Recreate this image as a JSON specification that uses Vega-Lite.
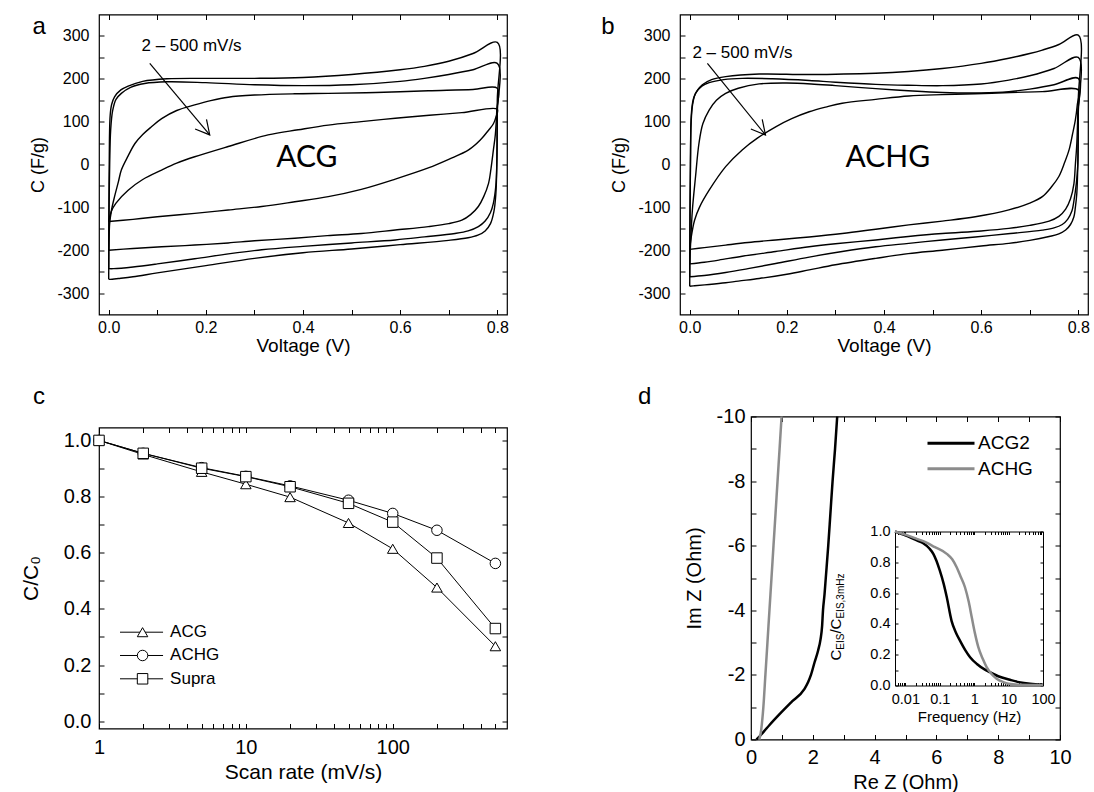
{
"$schema": "https://vega.github.io/schema/vega-lite/v6.json",
"background": "white",
"padding": {"left": 19, "top": 12.5, "right": 0, "bottom": 0},
"spacing": 402,
"bounds": "flush",
"config": {
  "view": {"stroke": "black", "strokeWidth": 1.2},
  "axis": {"grid": false, "domain": false, "ticks": true, "tickColor": "black", "tickWidth": 1, "tickSize": -5, "labelColor": "black", "titleColor": "black", "labelFont": "Liberation Sans", "titleFont": "Liberation Sans", "titleFontWeight": "normal", "labelFlush": false, "labelOverlap": false},
  "text": {"font": "Liberation Sans", "color": "black"},
  "legend": {"labelFont": "Liberation Sans", "labelColor": "black"}
},
"datasets": {
  "cva": [
    {"l":1,"v":0,"c":-268},{"l":1,"v":0.0005,"c":-100},{"l":1,"v":0.0015,"c":60},{"l":1,"v":0.003,"c":115},{"l":1,"v":0.006,"c":140},{"l":1,"v":0.012,"c":158},{"l":1,"v":0.025,"c":174},{"l":1,"v":0.04,"c":183},{"l":1,"v":0.07,"c":194},{"l":1,"v":0.12,"c":200},{"l":1,"v":0.2,"c":201},{"l":1,"v":0.3,"c":201},{"l":1,"v":0.4,"c":203},{"l":1,"v":0.5,"c":210},{"l":1,"v":0.6,"c":221},{"l":1,"v":0.65,"c":229},{"l":1,"v":0.7,"c":241},{"l":1,"v":0.75,"c":259},{"l":1,"v":0.8,"c":285},{"l":1,"v":0.8,"c":150},{"l":1,"v":0.799,"c":0},{"l":1,"v":0.797,"c":-70},{"l":1,"v":0.793,"c":-110},{"l":1,"v":0.786,"c":-138},{"l":1,"v":0.775,"c":-155},{"l":1,"v":0.76,"c":-165},{"l":1,"v":0.74,"c":-171},{"l":1,"v":0.7,"c":-177},{"l":1,"v":0.6,"c":-187},{"l":1,"v":0.5,"c":-197},{"l":1,"v":0.4,"c":-206},{"l":1,"v":0.3,"c":-219},{"l":1,"v":0.2,"c":-236},{"l":1,"v":0.1,"c":-253},{"l":1,"v":0.05,"c":-262},{"l":1,"v":0.02,"c":-266},{"l":1,"v":0.003,"c":-268},{"l":1,"v":0,"c":-268},
    {"l":2,"v":0,"c":-243},{"l":2,"v":0.0005,"c":-120},{"l":2,"v":0.002,"c":0},{"l":2,"v":0.004,"c":80},{"l":2,"v":0.008,"c":125},{"l":2,"v":0.015,"c":152},{"l":2,"v":0.026,"c":166},{"l":2,"v":0.045,"c":180},{"l":2,"v":0.074,"c":189},{"l":2,"v":0.12,"c":193},{"l":2,"v":0.2,"c":191},{"l":2,"v":0.3,"c":186},{"l":2,"v":0.4,"c":184},{"l":2,"v":0.5,"c":186},{"l":2,"v":0.6,"c":194},{"l":2,"v":0.65,"c":201},{"l":2,"v":0.7,"c":210},{"l":2,"v":0.75,"c":221},{"l":2,"v":0.8,"c":236},{"l":2,"v":0.8,"c":120},{"l":2,"v":0.799,"c":0},{"l":2,"v":0.797,"c":-50},{"l":2,"v":0.792,"c":-90},{"l":2,"v":0.786,"c":-112},{"l":2,"v":0.775,"c":-132},{"l":2,"v":0.761,"c":-145},{"l":2,"v":0.74,"c":-155},{"l":2,"v":0.713,"c":-161},{"l":2,"v":0.65,"c":-169},{"l":2,"v":0.59,"c":-176},{"l":2,"v":0.5,"c":-183},{"l":2,"v":0.4,"c":-191},{"l":2,"v":0.315,"c":-199},{"l":2,"v":0.25,"c":-208},{"l":2,"v":0.177,"c":-220},{"l":2,"v":0.1,"c":-232},{"l":2,"v":0.05,"c":-239},{"l":2,"v":0.01,"c":-243},{"l":2,"v":0,"c":-243},
    {"l":3,"v":0,"c":-200},{"l":3,"v":0.001,"c":-160},{"l":3,"v":0.002,"c":-137},{"l":3,"v":0.006,"c":-105},{"l":3,"v":0.012,"c":-75},{"l":3,"v":0.02,"c":-40},{"l":3,"v":0.026,"c":-13},{"l":3,"v":0.04,"c":20},{"l":3,"v":0.054,"c":49},{"l":3,"v":0.07,"c":70},{"l":3,"v":0.088,"c":88},{"l":3,"v":0.109,"c":107},{"l":3,"v":0.14,"c":126},{"l":3,"v":0.177,"c":139},{"l":3,"v":0.21,"c":149},{"l":3,"v":0.246,"c":157},{"l":3,"v":0.3,"c":162},{"l":3,"v":0.383,"c":165},{"l":3,"v":0.452,"c":166},{"l":3,"v":0.55,"c":168},{"l":3,"v":0.658,"c":172},{"l":3,"v":0.75,"c":175},{"l":3,"v":0.8,"c":178},{"l":3,"v":0.799,"c":127},{"l":3,"v":0.796,"c":70},{"l":3,"v":0.792,"c":34},{"l":3,"v":0.787,"c":-10},{"l":3,"v":0.782,"c":-44},{"l":3,"v":0.772,"c":-75},{"l":3,"v":0.761,"c":-98},{"l":3,"v":0.745,"c":-117},{"l":3,"v":0.727,"c":-130},{"l":3,"v":0.7,"c":-138},{"l":3,"v":0.658,"c":-145},{"l":3,"v":0.59,"c":-153},{"l":3,"v":0.52,"c":-161},{"l":3,"v":0.45,"c":-166},{"l":3,"v":0.383,"c":-172},{"l":3,"v":0.3,"c":-178},{"l":3,"v":0.246,"c":-183},{"l":3,"v":0.177,"c":-188},{"l":3,"v":0.109,"c":-192},{"l":3,"v":0.05,"c":-196},{"l":3,"v":0,"c":-200},
    {"l":4,"v":0,"c":-133},{"l":4,"v":0.005,"c":-110},{"l":4,"v":0.015,"c":-90},{"l":4,"v":0.04,"c":-60},{"l":4,"v":0.07,"c":-35},{"l":4,"v":0.109,"c":-13},{"l":4,"v":0.14,"c":3},{"l":4,"v":0.177,"c":18},{"l":4,"v":0.246,"c":42},{"l":4,"v":0.328,"c":69},{"l":4,"v":0.39,"c":81},{"l":4,"v":0.452,"c":92},{"l":4,"v":0.52,"c":100},{"l":4,"v":0.59,"c":108},{"l":4,"v":0.66,"c":115},{"l":4,"v":0.727,"c":121},{"l":4,"v":0.8,"c":129},{"l":4,"v":0.797,"c":110},{"l":4,"v":0.792,"c":95},{"l":4,"v":0.782,"c":80},{"l":4,"v":0.765,"c":57},{"l":4,"v":0.741,"c":34},{"l":4,"v":0.7,"c":12},{"l":4,"v":0.658,"c":-8},{"l":4,"v":0.59,"c":-34},{"l":4,"v":0.52,"c":-58},{"l":4,"v":0.452,"c":-75},{"l":4,"v":0.383,"c":-87},{"l":4,"v":0.315,"c":-98},{"l":4,"v":0.246,"c":-106},{"l":4,"v":0.177,"c":-114},{"l":4,"v":0.1,"c":-122},{"l":4,"v":0.05,"c":-128},{"l":4,"v":0,"c":-133}
  ],
  "cvb": [
    {"l":1,"v":0,"c":-284},{"l":1,"v":0.0005,"c":-150},{"l":1,"v":0.0015,"c":0},{"l":1,"v":0.003,"c":110},{"l":1,"v":0.006,"c":145},{"l":1,"v":0.009,"c":158},{"l":1,"v":0.015,"c":172},{"l":1,"v":0.026,"c":186},{"l":1,"v":0.045,"c":198},{"l":1,"v":0.074,"c":205},{"l":1,"v":0.143,"c":211},{"l":1,"v":0.246,"c":210},{"l":1,"v":0.383,"c":213},{"l":1,"v":0.45,"c":217},{"l":1,"v":0.52,"c":224},{"l":1,"v":0.6,"c":236},{"l":1,"v":0.657,"c":248},{"l":1,"v":0.7,"c":259},{"l":1,"v":0.726,"c":267},{"l":1,"v":0.76,"c":280},{"l":1,"v":0.8,"c":302},{"l":1,"v":0.8,"c":150},{"l":1,"v":0.799,"c":0},{"l":1,"v":0.797,"c":-67},{"l":1,"v":0.794,"c":-100},{"l":1,"v":0.791,"c":-122},{"l":1,"v":0.784,"c":-140},{"l":1,"v":0.774,"c":-153},{"l":1,"v":0.76,"c":-162},{"l":1,"v":0.74,"c":-168},{"l":1,"v":0.7,"c":-177},{"l":1,"v":0.657,"c":-184},{"l":1,"v":0.6,"c":-190},{"l":1,"v":0.52,"c":-200},{"l":1,"v":0.45,"c":-208},{"l":1,"v":0.383,"c":-219},{"l":1,"v":0.3,"c":-234},{"l":1,"v":0.246,"c":-246},{"l":1,"v":0.2,"c":-256},{"l":1,"v":0.143,"c":-266},{"l":1,"v":0.1,"c":-272},{"l":1,"v":0.074,"c":-276},{"l":1,"v":0.04,"c":-280},{"l":1,"v":0.01,"c":-283},{"l":1,"v":0,"c":-284},
    {"l":2,"v":0,"c":-262},{"l":2,"v":0.0005,"c":-120},{"l":2,"v":0.0015,"c":0},{"l":2,"v":0.003,"c":100},{"l":2,"v":0.006,"c":140},{"l":2,"v":0.012,"c":166},{"l":2,"v":0.025,"c":183},{"l":2,"v":0.04,"c":191},{"l":2,"v":0.07,"c":198},{"l":2,"v":0.108,"c":201},{"l":2,"v":0.17,"c":200},{"l":2,"v":0.246,"c":196},{"l":2,"v":0.3,"c":192},{"l":2,"v":0.383,"c":187},{"l":2,"v":0.45,"c":185},{"l":2,"v":0.52,"c":184},{"l":2,"v":0.6,"c":188},{"l":2,"v":0.657,"c":197},{"l":2,"v":0.7,"c":207},{"l":2,"v":0.75,"c":224},{"l":2,"v":0.8,"c":250},{"l":2,"v":0.8,"c":120},{"l":2,"v":0.799,"c":0},{"l":2,"v":0.796,"c":-44},{"l":2,"v":0.791,"c":-85},{"l":2,"v":0.787,"c":-108},{"l":2,"v":0.778,"c":-128},{"l":2,"v":0.767,"c":-140},{"l":2,"v":0.75,"c":-148},{"l":2,"v":0.726,"c":-153},{"l":2,"v":0.66,"c":-161},{"l":2,"v":0.588,"c":-169},{"l":2,"v":0.52,"c":-176},{"l":2,"v":0.451,"c":-184},{"l":2,"v":0.383,"c":-192},{"l":2,"v":0.314,"c":-203},{"l":2,"v":0.246,"c":-216},{"l":2,"v":0.177,"c":-231},{"l":2,"v":0.12,"c":-243},{"l":2,"v":0.074,"c":-252},{"l":2,"v":0.03,"c":-259},{"l":2,"v":0,"c":-262},
    {"l":3,"v":0,"c":-232},{"l":3,"v":0.002,"c":-180},{"l":3,"v":0.0055,"c":-106},{"l":3,"v":0.012,"c":-28},{"l":3,"v":0.019,"c":49},{"l":3,"v":0.027,"c":95},{"l":3,"v":0.04,"c":127},{"l":3,"v":0.055,"c":150},{"l":3,"v":0.074,"c":166},{"l":3,"v":0.1,"c":178},{"l":3,"v":0.143,"c":188},{"l":3,"v":0.2,"c":190},{"l":3,"v":0.25,"c":188},{"l":3,"v":0.3,"c":184},{"l":3,"v":0.383,"c":177},{"l":3,"v":0.45,"c":172},{"l":3,"v":0.52,"c":168},{"l":3,"v":0.6,"c":167},{"l":3,"v":0.657,"c":170},{"l":3,"v":0.7,"c":176},{"l":3,"v":0.75,"c":186},{"l":3,"v":0.8,"c":201},{"l":3,"v":0.799,"c":120},{"l":3,"v":0.797,"c":49},{"l":3,"v":0.794,"c":0},{"l":3,"v":0.791,"c":-45},{"l":3,"v":0.784,"c":-80},{"l":3,"v":0.774,"c":-104},{"l":3,"v":0.76,"c":-121},{"l":3,"v":0.74,"c":-132},{"l":3,"v":0.7,"c":-142},{"l":3,"v":0.657,"c":-149},{"l":3,"v":0.6,"c":-155},{"l":3,"v":0.52,"c":-161},{"l":3,"v":0.45,"c":-168},{"l":3,"v":0.383,"c":-176},{"l":3,"v":0.3,"c":-185},{"l":3,"v":0.246,"c":-192},{"l":3,"v":0.177,"c":-203},{"l":3,"v":0.108,"c":-214},{"l":3,"v":0.06,"c":-223},{"l":3,"v":0.03,"c":-228},{"l":3,"v":0,"c":-232},
    {"l":4,"v":0,"c":-198},{"l":4,"v":0.003,"c":-170},{"l":4,"v":0.01,"c":-130},{"l":4,"v":0.02,"c":-100},{"l":4,"v":0.04,"c":-60},{"l":4,"v":0.074,"c":-5},{"l":4,"v":0.108,"c":34},{"l":4,"v":0.14,"c":62},{"l":4,"v":0.177,"c":88},{"l":4,"v":0.21,"c":107},{"l":4,"v":0.246,"c":123},{"l":4,"v":0.28,"c":134},{"l":4,"v":0.314,"c":143},{"l":4,"v":0.383,"c":152},{"l":4,"v":0.451,"c":160},{"l":4,"v":0.52,"c":163},{"l":4,"v":0.588,"c":165},{"l":4,"v":0.66,"c":168},{"l":4,"v":0.726,"c":170},{"l":4,"v":0.8,"c":174},{"l":4,"v":0.798,"c":140},{"l":4,"v":0.794,"c":104},{"l":4,"v":0.788,"c":70},{"l":4,"v":0.781,"c":34},{"l":4,"v":0.772,"c":5},{"l":4,"v":0.76,"c":-28},{"l":4,"v":0.745,"c":-52},{"l":4,"v":0.726,"c":-75},{"l":4,"v":0.7,"c":-90},{"l":4,"v":0.657,"c":-106},{"l":4,"v":0.588,"c":-122},{"l":4,"v":0.52,"c":-132},{"l":4,"v":0.451,"c":-141},{"l":4,"v":0.383,"c":-151},{"l":4,"v":0.314,"c":-161},{"l":4,"v":0.246,"c":-169},{"l":4,"v":0.177,"c":-176},{"l":4,"v":0.12,"c":-182},{"l":4,"v":0.074,"c":-188},{"l":4,"v":0.03,"c":-194},{"l":4,"v":0,"c":-198}
  ],
  "rate": [
    {"s":"ACG","r":1,"y":1.0},{"s":"ACG","r":2,"y":0.95},{"s":"ACG","r":5,"y":0.888},{"s":"ACG","r":10,"y":0.844},{"s":"ACG","r":20,"y":0.798},{"s":"ACG","r":50,"y":0.706},{"s":"ACG","r":100,"y":0.614},{"s":"ACG","r":200,"y":0.476},{"s":"ACG","r":500,"y":0.267},
    {"s":"ACHG","r":1,"y":1.0},{"s":"ACHG","r":2,"y":0.954},{"s":"ACHG","r":5,"y":0.903},{"s":"ACHG","r":10,"y":0.872},{"s":"ACHG","r":20,"y":0.838},{"s":"ACHG","r":50,"y":0.787},{"s":"ACHG","r":100,"y":0.74},{"s":"ACHG","r":200,"y":0.68},{"s":"ACHG","r":500,"y":0.562},
    {"s":"Supra","r":1,"y":1.0},{"s":"Supra","r":2,"y":0.954},{"s":"Supra","r":5,"y":0.901},{"s":"Supra","r":10,"y":0.871},{"s":"Supra","r":20,"y":0.835},{"s":"Supra","r":50,"y":0.776},{"s":"Supra","r":100,"y":0.709},{"s":"Supra","r":200,"y":0.581},{"s":"Supra","r":500,"y":0.33}
  ],
  "nyq": [
    {"s":"ACG2","re":0.18,"im":0},{"s":"ACG2","re":0.28,"im":-0.1},{"s":"ACG2","re":0.42,"im":-0.25},{"s":"ACG2","re":0.6,"im":-0.45},{"s":"ACG2","re":0.94,"im":-0.8},{"s":"ACG2","re":1.3,"im":-1.15},{"s":"ACG2","re":1.72,"im":-1.55},{"s":"ACG2","re":1.85,"im":-1.78},{"s":"ACG2","re":1.94,"im":-2.0},{"s":"ACG2","re":2.06,"im":-2.4},{"s":"ACG2","re":2.17,"im":-2.75},{"s":"ACG2","re":2.25,"im":-3.1},{"s":"ACG2","re":2.3,"im":-3.5},{"s":"ACG2","re":2.33,"im":-4.0},{"s":"ACG2","re":2.38,"im":-4.5},{"s":"ACG2","re":2.42,"im":-5.0},{"s":"ACG2","re":2.5,"im":-6.0},{"s":"ACG2","re":2.57,"im":-7.0},{"s":"ACG2","re":2.64,"im":-8.0},{"s":"ACG2","re":2.72,"im":-9.0},{"s":"ACG2","re":2.79,"im":-10.0},
    {"s":"ACHG","re":0.27,"im":0},{"s":"ACHG","re":0.33,"im":-0.3},{"s":"ACHG","re":0.4,"im":-1.0},{"s":"ACHG","re":0.466,"im":-2.0},{"s":"ACHG","re":0.532,"im":-3.0},{"s":"ACHG","re":0.597,"im":-4.0},{"s":"ACHG","re":0.663,"im":-5.0},{"s":"ACHG","re":0.728,"im":-6.0},{"s":"ACHG","re":0.794,"im":-7.0},{"s":"ACHG","re":0.859,"im":-8.0},{"s":"ACHG","re":0.925,"im":-9.0},{"s":"ACHG","re":0.99,"im":-10.0}
  ],
  "eis": [
    {"s":"ACG2","f":0.005,"q":1.0},{"s":"ACG2","f":0.01,"q":0.975},{"s":"ACG2","f":0.02,"q":0.945},{"s":"ACG2","f":0.033,"q":0.924},{"s":"ACG2","f":0.05,"q":0.89},{"s":"ACG2","f":0.065,"q":0.855},{"s":"ACG2","f":0.08,"q":0.81},{"s":"ACG2","f":0.1,"q":0.747},{"s":"ACG2","f":0.13,"q":0.66},{"s":"ACG2","f":0.16,"q":0.573},{"s":"ACG2","f":0.22,"q":0.42},{"s":"ACG2","f":0.3,"q":0.34},{"s":"ACG2","f":0.39,"q":0.29},{"s":"ACG2","f":0.55,"q":0.23},{"s":"ACG2","f":0.76,"q":0.184},{"s":"ACG2","f":1.2,"q":0.14},{"s":"ACG2","f":2,"q":0.105},{"s":"ACG2","f":2.9,"q":0.086},{"s":"ACG2","f":5,"q":0.06},{"s":"ACG2","f":11,"q":0.037},{"s":"ACG2","f":20,"q":0.022},{"s":"ACG2","f":42,"q":0.011},{"s":"ACG2","f":100,"q":0.005},
    {"s":"ACHG","f":0.005,"q":1.0},{"s":"ACHG","f":0.01,"q":0.98},{"s":"ACHG","f":0.02,"q":0.955},{"s":"ACHG","f":0.033,"q":0.937},{"s":"ACHG","f":0.07,"q":0.9},{"s":"ACHG","f":0.16,"q":0.855},{"s":"ACHG","f":0.23,"q":0.82},{"s":"ACHG","f":0.31,"q":0.768},{"s":"ACHG","f":0.4,"q":0.71},{"s":"ACHG","f":0.54,"q":0.638},{"s":"ACHG","f":0.7,"q":0.54},{"s":"ACHG","f":0.85,"q":0.443},{"s":"ACHG","f":1.05,"q":0.34},{"s":"ACHG","f":1.32,"q":0.249},{"s":"ACHG","f":1.8,"q":0.17},{"s":"ACHG","f":2.3,"q":0.119},{"s":"ACHG","f":3.2,"q":0.075},{"s":"ACHG","f":4.5,"q":0.044},{"s":"ACHG","f":7,"q":0.022},{"s":"ACHG","f":10,"q":0.011},{"s":"ACHG","f":20,"q":0.005},{"s":"ACHG","f":100,"q":0.003}
  ]
},
"vconcat": [
  {
    "hconcat": [
      {
        "width": 408, "height": 300,
        "layer": [
          {"data": {"name": "cva"},
           "mark": {"type": "line", "color": "black", "strokeWidth": 1.4, "interpolate": "catmull-rom"},
           "encoding": {
             "x": {"field": "v", "type": "quantitative", "scale": {"domain": [-0.02, 0.82], "nice": false, "zero": false},
                   "axis": {"orient": "bottom", "title": "Voltage (V)", "values": [0,0.1,0.2,0.3,0.4,0.5,0.6,0.7,0.8], "labelExpr": "round(datum.value*10) % 2 === 0 ? format(datum.value, '.1f') : ''", "labelFontSize": 16, "titleFontSize": 19, "labelPadding": 10, "titlePadding": 1}},
             "y": {"field": "c", "type": "quantitative", "scale": {"domain": [-350, 350], "nice": false, "zero": false},
                   "axis": {"orient": "left", "title": "C (F/g)", "values": [-300,-250,-200,-150,-100,-50,0,50,100,150,200,250,300], "labelExpr": "datum.value % 100 === 0 ? '' + datum.value : ''", "labelFontSize": 16, "titleFontSize": 18, "labelPadding": 15, "titlePadding": 9}},
             "detail": {"field": "l", "type": "nominal"},
             "order": {"value": null}
           }},
          {"data": {"values": [{}]},
           "mark": {"type": "text", "text": "ACG", "font": "Lato", "fontSize": 30, "align": "center", "baseline": "middle"},
           "encoding": {
             "x": {"datum": 0.408, "type": "quantitative", "axis": {"orient": "top", "labels": false, "title": null, "values": [0,0.1,0.2,0.3,0.4,0.5,0.6,0.7,0.8]}},
             "y": {"datum": 16, "type": "quantitative", "axis": {"orient": "right", "labels": false, "title": null, "values": [-300,-250,-200,-150,-100,-50,0,50,100,150,200,250,300]}}
           }},
          {"data": {"values": [{}]},
           "mark": {"type": "text", "text": "2 – 500 mV/s", "fontSize": 17, "align": "left", "baseline": "middle"},
           "encoding": {"x": {"datum": 0.0674, "type": "quantitative", "axis": null}, "y": {"datum": 277, "type": "quantitative", "axis": null}}},
          {"data": {"values": [{}]},
           "mark": {"type": "rule", "color": "black", "strokeWidth": 1.2},
           "encoding": {"x": {"datum": 0.0845, "type": "quantitative", "axis": null}, "y": {"datum": 236, "type": "quantitative", "axis": null}, "x2": {"datum": 0.208}, "y2": {"datum": 69}}},
          {"data": {"values": [{}]},
           "mark": {"type": "point", "shape": "M-0.47,-0.88L0,0L0.47,-0.88", "size": 1000, "angle": 320, "filled": false, "color": "black", "strokeWidth": 1.2, "opacity": 1},
           "encoding": {"x": {"datum": 0.208, "type": "quantitative", "axis": null}, "y": {"datum": 69, "type": "quantitative", "axis": null}}},
          {"data": {"values": [{}]},
           "mark": {"type": "text", "text": "a", "fontSize": 24, "align": "left", "baseline": "alphabetic"},
           "encoding": {"x": {"datum": -0.157, "type": "quantitative", "axis": null}, "y": {"datum": 305, "type": "quantitative", "axis": null}}}
        ],
        "resolve": {"axis": {"x": "independent", "y": "independent"}}
      },
      {
        "width": 408, "height": 300,
        "layer": [
          {"data": {"name": "cvb"},
           "mark": {"type": "line", "color": "black", "strokeWidth": 1.4, "interpolate": "catmull-rom"},
           "encoding": {
             "x": {"field": "v", "type": "quantitative", "scale": {"domain": [-0.02, 0.82], "nice": false, "zero": false},
                   "axis": {"orient": "bottom", "title": "Voltage (V)", "values": [0,0.1,0.2,0.3,0.4,0.5,0.6,0.7,0.8], "labelExpr": "round(datum.value*10) % 2 === 0 ? format(datum.value, '.1f') : ''", "labelFontSize": 16, "titleFontSize": 19, "labelPadding": 10, "titlePadding": 1}},
             "y": {"field": "c", "type": "quantitative", "scale": {"domain": [-350, 350], "nice": false, "zero": false},
                   "axis": {"orient": "left", "title": "C (F/g)", "values": [-300,-250,-200,-150,-100,-50,0,50,100,150,200,250,300], "labelExpr": "datum.value % 100 === 0 ? '' + datum.value : ''", "labelFontSize": 16, "titleFontSize": 18, "labelPadding": 15, "titlePadding": 9}},
             "detail": {"field": "l", "type": "nominal"},
             "order": {"value": null}
           }},
          {"data": {"values": [{}]},
           "mark": {"type": "text", "text": "ACHG", "font": "Lato", "fontSize": 30, "align": "center", "baseline": "middle"},
           "encoding": {
             "x": {"datum": 0.408, "type": "quantitative", "axis": {"orient": "top", "labels": false, "title": null, "values": [0,0.1,0.2,0.3,0.4,0.5,0.6,0.7,0.8]}},
             "y": {"datum": 16, "type": "quantitative", "axis": {"orient": "right", "labels": false, "title": null, "values": [-300,-250,-200,-150,-100,-50,0,50,100,150,200,250,300]}}
           }},
          {"data": {"values": [{}]},
           "mark": {"type": "text", "text": "2 – 500 mV/s", "fontSize": 17, "align": "left", "baseline": "middle"},
           "encoding": {"x": {"datum": 0.0056, "type": "quantitative", "axis": null}, "y": {"datum": 260, "type": "quantitative", "axis": null}}},
          {"data": {"values": [{}]},
           "mark": {"type": "rule", "color": "black", "strokeWidth": 1.2},
           "encoding": {"x": {"datum": 0.0364, "type": "quantitative", "axis": null}, "y": {"datum": 236, "type": "quantitative", "axis": null}, "x2": {"datum": 0.156}, "y2": {"datum": 69}}},
          {"data": {"values": [{}]},
           "mark": {"type": "point", "shape": "M-0.47,-0.88L0,0L0.47,-0.88", "size": 1000, "angle": 320, "filled": false, "color": "black", "strokeWidth": 1.2, "opacity": 1},
           "encoding": {"x": {"datum": 0.156, "type": "quantitative", "axis": null}, "y": {"datum": 69, "type": "quantitative", "axis": null}}},
          {"data": {"values": [{}]},
           "mark": {"type": "text", "text": "b", "fontSize": 24, "align": "left", "baseline": "alphabetic"},
           "encoding": {"x": {"datum": -0.182, "type": "quantitative", "axis": null}, "y": {"datum": 305, "type": "quantitative", "axis": null}}}
        ],
        "resolve": {"axis": {"x": "independent", "y": "independent"}}
      }
    ],
    "spacing": 173,
    "bounds": "flush"
  },
  {
    "hconcat": [
      {
        "width": 408, "height": 301,
        "layer": [
          {"data": {"name": "rate"},
           "mark": {"type": "line", "color": "black", "strokeWidth": 1},
           "encoding": {
             "x": {"field": "r", "type": "quantitative", "scale": {"type": "log", "domain": [1, 600], "nice": false},
                   "axis": {"orient": "bottom", "title": "Scan rate (mV/s)", "values": [1,2,3,4,5,6,7,8,9,10,20,30,40,50,60,70,80,90,100,200,300,400,500], "labelExpr": "datum.value === 1 || datum.value === 10 || datum.value === 100 ? '' + datum.value : ''", "labelFontSize": 20, "titleFontSize": 21, "labelPadding": 14, "titlePadding": 4}},
             "y": {"field": "y", "type": "quantitative", "scale": {"domain": [-0.026, 1.046], "nice": false, "zero": false},
                   "axis": {"orient": "left", "title": "C/C₀", "values": [0,0.1,0.2,0.3,0.4,0.5,0.6,0.7,0.8,0.9,1], "labelExpr": "round(datum.value*10) % 2 === 0 ? format(datum.value, '.1f') : ''", "labelFontSize": 20, "titleFontSize": 21, "labelPadding": 13, "titlePadding": 22}},
             "detail": {"field": "s", "type": "nominal"}
           }},
          {"data": {"name": "rate"},
           "mark": {"type": "point", "filled": true, "fill": "white", "stroke": "black", "strokeWidth": 1, "size": 110, "opacity": 1},
           "encoding": {
             "x": {"field": "r", "type": "quantitative", "axis": null},
             "y": {"field": "y", "type": "quantitative", "axis": null},
             "shape": {"field": "s", "type": "nominal", "scale": {"domain": ["ACG", "ACHG", "Supra"], "range": ["triangle-up", "circle", "square"]}, "legend": null}
           }},
          {"data": {"values": [{}]}, "mark": {"type": "rule", "color": "black", "strokeWidth": 1},
           "encoding": {"x": {"datum": 1.39, "type": "quantitative", "axis": null}, "x2": {"datum": 2.73}, "y": {"datum": 0.317, "type": "quantitative", "axis": null}}},
          {"data": {"values": [{}]}, "mark": {"type": "rule", "color": "black", "strokeWidth": 1},
           "encoding": {"x": {"datum": 1.39, "type": "quantitative", "axis": null}, "x2": {"datum": 2.73}, "y": {"datum": 0.234, "type": "quantitative", "axis": null}}},
          {"data": {"values": [{}]}, "mark": {"type": "rule", "color": "black", "strokeWidth": 1},
           "encoding": {"x": {"datum": 1.39, "type": "quantitative", "axis": null}, "x2": {"datum": 2.73}, "y": {"datum": 0.151, "type": "quantitative", "axis": null}}},
          {"data": {"values": [{}]}, "mark": {"type": "point", "shape": "triangle-up", "filled": true, "fill": "white", "stroke": "black", "strokeWidth": 1, "size": 110, "opacity": 1},
           "encoding": {"x": {"datum": 1.98, "type": "quantitative", "axis": null}, "y": {"datum": 0.317, "type": "quantitative", "axis": null}}},
          {"data": {"values": [{}]}, "mark": {"type": "point", "shape": "circle", "filled": true, "fill": "white", "stroke": "black", "strokeWidth": 1, "size": 110, "opacity": 1},
           "encoding": {"x": {"datum": 1.98, "type": "quantitative", "axis": null}, "y": {"datum": 0.234, "type": "quantitative", "axis": null}}},
          {"data": {"values": [{}]}, "mark": {"type": "point", "shape": "square", "filled": true, "fill": "white", "stroke": "black", "strokeWidth": 1, "size": 110, "opacity": 1},
           "encoding": {"x": {"datum": 1.98, "type": "quantitative", "axis": null}, "y": {"datum": 0.151, "type": "quantitative", "axis": null}}},
          {"data": {"values": [{}]}, "mark": {"type": "text", "text": "ACG", "fontSize": 17, "align": "left", "baseline": "middle"},
           "encoding": {"x": {"datum": 3.05, "type": "quantitative", "axis": null}, "y": {"datum": 0.317, "type": "quantitative", "axis": null}}},
          {"data": {"values": [{}]}, "mark": {"type": "text", "text": "ACHG", "fontSize": 17, "align": "left", "baseline": "middle"},
           "encoding": {"x": {"datum": 3.05, "type": "quantitative", "axis": null}, "y": {"datum": 0.234, "type": "quantitative", "axis": null}}},
          {"data": {"values": [{}]}, "mark": {"type": "text", "text": "Supra", "fontSize": 17, "align": "left", "baseline": "middle"},
           "encoding": {"x": {"datum": 3.05, "type": "quantitative", "axis": null}, "y": {"datum": 0.151, "type": "quantitative", "axis": null}}},
          {"data": {"values": [{}]},
           "mark": {"type": "text", "text": "c", "fontSize": 24, "align": "left", "baseline": "alphabetic"},
           "encoding": {
             "x": {"datum": 0.355, "type": "quantitative", "axis": {"orient": "top", "labels": false, "title": null, "values": [1,2,3,4,5,6,7,8,9,10,20,30,40,50,60,70,80,90,100,200,300,400,500]}},
             "y": {"datum": 1.131, "type": "quantitative", "axis": {"orient": "right", "labels": false, "title": null, "values": [0,0.1,0.2,0.3,0.4,0.5,0.6,0.7,0.8,0.9,1]}}
           }}
        ],
        "resolve": {"axis": {"x": "independent", "y": "independent"}}
      },
      {
        "width": 309, "height": 323,
        "layer": [
          {
            "layer": [
              {"data": {"name": "nyq"},
               "mark": {"type": "line", "strokeWidth": 2.5, "interpolate": "monotone"},
               "encoding": {
                 "x": {"field": "re", "type": "quantitative", "scale": {"domain": [0, 10], "nice": false, "zero": false},
                       "axis": {"orient": "bottom", "title": "Re Z (Ohm)", "values": [0,1,2,3,4,5,6,7,8,9,10], "labelExpr": "datum.value % 2 === 0 ? '' + datum.value : ''", "labelFontSize": 20, "titleFontSize": 20, "labelPadding": 13, "titlePadding": 5}},
                 "y": {"field": "im", "type": "quantitative", "scale": {"domain": [-10, 0], "reverse": true, "nice": false, "zero": false},
                       "axis": {"orient": "left", "title": "Im Z (Ohm)", "values": [0,-1,-2,-3,-4,-5,-6,-7,-8,-9,-10], "labelExpr": "datum.value % 2 === 0 ? '' + datum.value : ''", "labelFontSize": 20, "titleFontSize": 20, "labelPadding": 11, "titlePadding": 12}},
                 "color": {"field": "s", "type": "nominal", "scale": {"domain": ["ACG2", "ACHG"], "range": ["black", "#8c8c8c"]},
                           "legend": {"orient": "none", "legendX": 842.5, "legendY": 419.2, "title": null, "labelFontSize": 19, "symbolType": "M-4.7,0H4.7", "symbolSize": 100, "symbolStrokeWidth": 3, "labelOffset": 17.5, "rowPadding": 5.6, "padding": 0}},
                 "order": {"value": null}
               }},
              {"data": {"values": [{}]},
               "mark": {"type": "text", "text": "d", "fontSize": 24, "align": "left", "baseline": "alphabetic"},
               "encoding": {
                 "x": {"datum": -3.66, "type": "quantitative", "axis": {"orient": "top", "labels": false, "title": null, "values": [0,1,2,3,4,5,6,7,8,9,10]}},
                 "y": {"datum": -10.39, "type": "quantitative", "axis": {"orient": "right", "labels": false, "title": null, "values": [0,-1,-2,-3,-4,-5,-6,-7,-8,-9,-10]}}
               }}
            ],
            "resolve": {"axis": {"x": "independent", "y": "independent"}}
          },
          {
            "layer": [
              {"data": {"name": "eis"},
               "mark": {"type": "line", "strokeWidth": 2.5, "interpolate": "monotone"},
               "encoding": {
                 "x": {"field": "f", "type": "quantitative", "scale": {"type": "log", "domain": [0.005, 100], "range": [144, 292], "nice": false},
                       "axis": {"orient": "bottom", "offset": -54, "domain": true, "domainColor": "black", "tickSize": -3, "title": "Frequency (Hz)", "values": [0.006,0.007,0.008,0.009,0.01,0.02,0.03,0.04,0.05,0.06,0.07,0.08,0.09,0.1,0.2,0.3,0.4,0.5,0.6,0.7,0.8,0.9,1,2,3,4,5,6,7,8,9,10,20,30,40,50,60,70,80,90,100], "labelExpr": "indexof([0.01,0.1,1,10,100], datum.value) >= 0 ? '' + datum.value : ''", "labelFontSize": 14.5, "titleFontSize": 15, "labelPadding": 10, "titlePadding": 3}},
                 "y": {"field": "q", "type": "quantitative", "scale": {"domain": [0, 1], "range": [269, 115], "nice": false, "zero": false},
                       "axis": {"orient": "left", "offset": -144, "domain": true, "domainColor": "black", "tickSize": -3, "title": null, "values": [0,0.1,0.2,0.3,0.4,0.5,0.6,0.7,0.8,0.9,1], "labelExpr": "round(datum.value*10) % 2 === 0 ? format(datum.value, '.1f') : ''", "labelFontSize": 14.5, "labelPadding": 8}},
                 "color": {"field": "s", "type": "nominal"},
                 "order": {"value": null}
               }},
              {"data": {"values": [{}]},
               "mark": {"type": "text", "text": "C", "fontSize": 15, "angle": 270, "align": "left", "baseline": "alphabetic"},
               "encoding": {
                 "x": {"datum": 0.000132, "type": "quantitative", "axis": {"orient": "top", "offset": -115, "domain": true, "domainColor": "black", "tickSize": -3, "labels": false, "title": null, "values": [0.006,0.007,0.008,0.009,0.01,0.02,0.03,0.04,0.05,0.06,0.07,0.08,0.09,0.1,0.2,0.3,0.4,0.5,0.6,0.7,0.8,0.9,1,2,3,4,5,6,7,8,9,10,20,30,40,50,60,70,80,90,100]}},
                 "y": {"datum": 0.162, "type": "quantitative", "axis": {"orient": "right", "offset": -17, "domain": true, "domainColor": "black", "tickSize": -3, "labels": false, "title": null, "values": [0,0.1,0.2,0.3,0.4,0.5,0.6,0.7,0.8,0.9,1]}}
               }},
              {"data": {"values": [{}]},
               "mark": {"type": "text", "text": "EIS", "fontSize": 10, "angle": 270, "align": "left", "baseline": "alphabetic", "dx": 10.8, "dy": 3.5},
               "encoding": {"x": {"datum": 0.000132, "type": "quantitative", "axis": null}, "y": {"datum": 0.162, "type": "quantitative", "axis": null}}},
              {"data": {"values": [{}]},
               "mark": {"type": "text", "text": "/C", "fontSize": 15, "angle": 270, "align": "left", "baseline": "alphabetic", "dx": 27},
               "encoding": {"x": {"datum": 0.000132, "type": "quantitative", "axis": null}, "y": {"datum": 0.162, "type": "quantitative", "axis": null}}},
              {"data": {"values": [{}]},
               "mark": {"type": "text", "text": "EIS,3mHz", "fontSize": 10, "angle": 270, "align": "left", "baseline": "alphabetic", "dx": 42, "dy": 3.5},
               "encoding": {"x": {"datum": 0.000132, "type": "quantitative", "axis": null}, "y": {"datum": 0.162, "type": "quantitative", "axis": null}}}
            ],
            "resolve": {"axis": {"x": "independent", "y": "independent"}}
          }
        ],
        "resolve": {"scale": {"x": "independent", "y": "independent"}}
      }
    ],
    "spacing": 244,
    "bounds": "flush",
    "center": true
  }
]
}
